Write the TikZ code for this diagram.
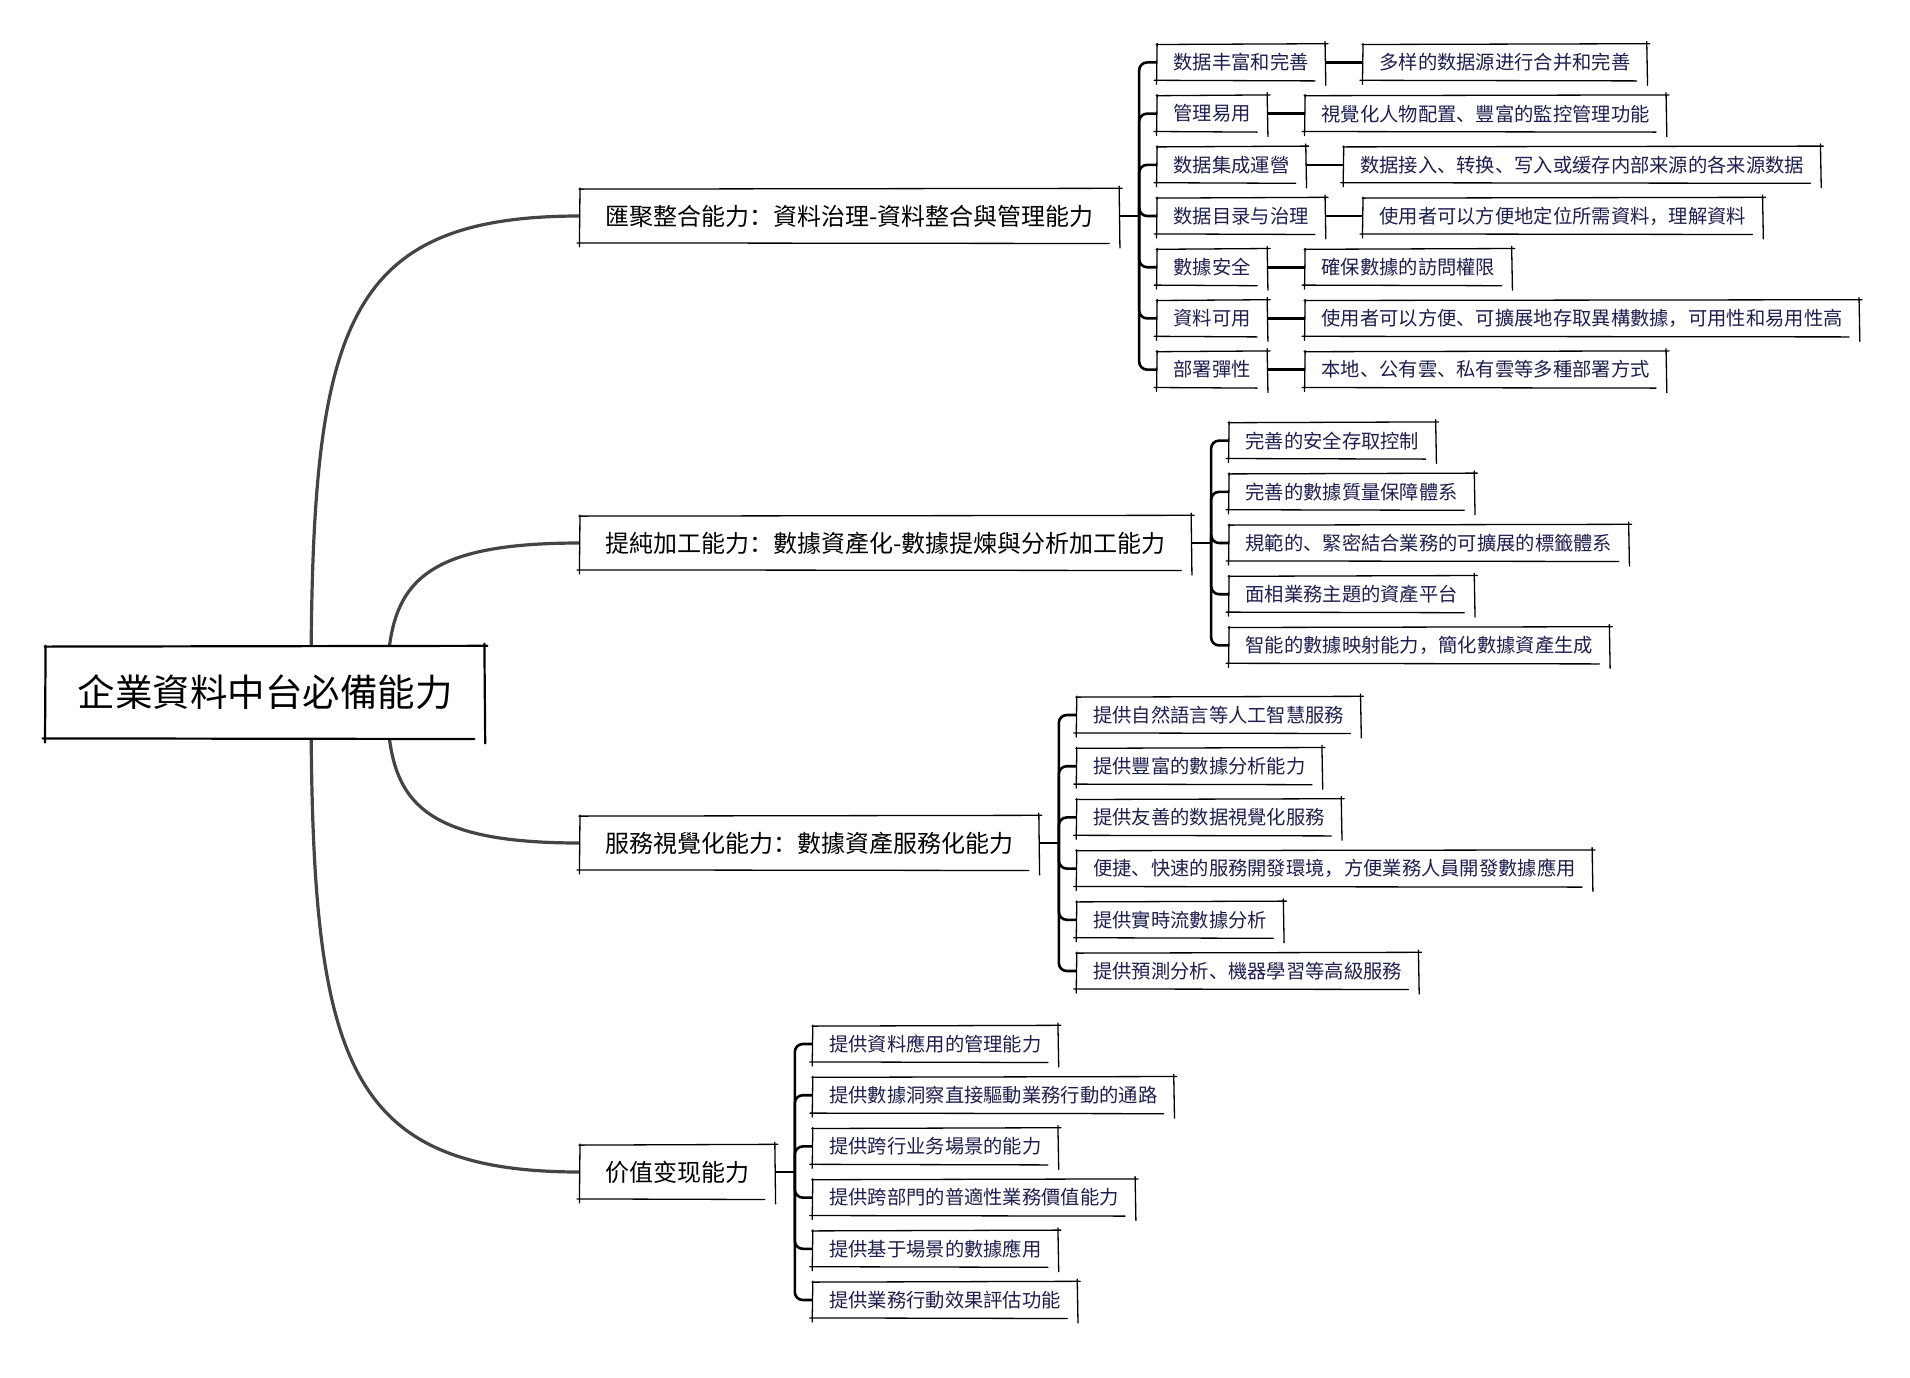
\documentclass[tikz,border=0pt]{standalone}
\usepackage{fontspec}
\setmainfont{Noto Sans CJK SC}
\usetikzlibrary{calc,positioning,backgrounds}
\definecolor{leaftext}{HTML}{1E1E50}
\definecolor{curvegray}{HTML}{444444}
\tikzset{
  skline/.style={draw=black, line width=0.65pt, line cap=round},
  rootline/.style={draw=black, line width=1.1pt, line cap=round},
  sketch/.style={append after command={\pgfextra{\let\sk\tikzlastnode}
    ([xshift=-0.5pt]\sk.north west) edge[#1] ([xshift=1.5pt,yshift=0.4pt]\sk.north east)
    ([yshift=0.5pt]\sk.north west) edge[#1] ([xshift=-0.3pt,yshift=-2pt]\sk.south west)
    ([xshift=-1.5pt]\sk.south west) edge[#1] ([xshift=-5pt,yshift=-0.3pt]\sk.south east)
    ([yshift=1.5pt]\sk.north east) edge[#1] ([xshift=0.4pt,yshift=-2.5pt]\sk.south east)
  }},
  sketch/.default=skline,
  rootbox/.style={sketch=rootline, fill=white, minimum width=219pt, minimum height=45.5pt,
    inner sep=0pt, font=\fontsize{18.75pt}{22pt}\selectfont},
  branch/.style={sketch, fill=white, anchor=west, minimum height=26.5pt, inner xsep=12.5pt,
    inner ysep=0pt, font=\fontsize{12pt}{14pt}\selectfont},
  leaf/.style={sketch, fill=white, anchor=west, minimum height=17.5pt, inner xsep=8pt,
    inner ysep=0pt, text=leaftext, font=\fontsize{9.65pt}{11pt}\selectfont},
  curve/.style={draw=curvegray, line width=1.6pt},
  conn/.style={draw=black, line width=1.3pt},
  spine/.style={conn, rounded corners=4pt},
}
\begin{document}
\begin{tikzpicture}[x=0.5pt,y=-0.5pt]
\useasboundingbox (0,0) rectangle (1910,1377);

% root and branches
\node[rootbox] (root) at (265,692.5) {企業資料中台必備能力};
\node[branch] (b1) at (580,216) {匯聚整合能力：資料治理-資料整合與管理能力};
\node[branch] (b2) at (580,543) {提純加工能力：數據資產化-數據提煉與分析加工能力};
\node[branch] (b3) at (580,843) {服務視覺化能力：數據資產服務化能力};
\node[branch] (b4) at (580,1172) {价值变现能力};

\coordinate (r1) at (311,692.5);
\coordinate (r2) at (387,692.5);
\begin{scope}[on background layer]
\fill[white] (0,0) rectangle (1910,1377);
\draw[curve] (r1) .. controls (311,330) and (340,216) .. (b1.west);
\draw[curve] (r2) .. controls (387,590) and (410,543) .. (b2.west);
\draw[curve] (r2) .. controls (387,795) and (410,843) .. (b3.west);
\draw[curve] (r1) .. controls (311,1055) and (340,1172) .. (b4.west);
\end{scope}

% branch 1 leaves
\node[leaf] (l11) at ($(b1.east)+(38,-153.6)$) {数据丰富和完善};
\node[leaf] (l12) at ($(b1.east)+(38,-102.4)$) {管理易用};
\node[leaf] (l13) at ($(b1.east)+(38,-51.2)$) {数据集成運營};
\node[leaf] (l14) at ($(b1.east)+(38,0)$) {数据目录与治理};
\node[leaf] (l15) at ($(b1.east)+(38,51.2)$) {數據安全};
\node[leaf] (l16) at ($(b1.east)+(38,102.4)$) {資料可用};
\node[leaf] (l17) at ($(b1.east)+(38,153.6)$) {部署彈性};
\node[leaf, right=19pt of l11] (m11) {多样的数据源进行合并和完善};
\node[leaf, right=19pt of l12] (m12) {視覺化人物配置、豐富的監控管理功能};
\node[leaf, right=19pt of l13] (m13) {数据接入、转换、写入或缓存内部来源的各来源数据};
\node[leaf, right=19pt of l14] (m14) {使用者可以方便地定位所需資料，理解資料};
\node[leaf, right=19pt of l15] (m15) {確保數據的訪問權限};
\node[leaf, right=19pt of l16] (m16) {使用者可以方便、可擴展地存取異構數據，可用性和易用性高};
\node[leaf, right=19pt of l17] (m17) {本地、公有雲、私有雲等多種部署方式};
\coordinate (s1) at ($(b1.east)+(20,0)$);
\draw[conn] (b1.east) -- (s1);
\foreach \n in {l11,l12,l13,l14,l15,l16,l17} \draw[spine] (s1) |- (\n.west);
\foreach \a/\b in {l11/m11,l12/m12,l13/m13,l14/m14,l15/m15,l16/m16,l17/m17}
  \draw[conn] (\a.east) -- (\b.west);

% branch 2 leaves
\node[leaf] (l21) at ($(b2.east)+(38,-102.4)$) {完善的安全存取控制};
\node[leaf] (l22) at ($(b2.east)+(38,-51.2)$) {完善的數據質量保障體系};
\node[leaf] (l23) at ($(b2.east)+(38,0)$) {規範的、緊密結合業務的可擴展的標籤體系};
\node[leaf] (l24) at ($(b2.east)+(38,51.2)$) {面相業務主題的資產平台};
\node[leaf] (l25) at ($(b2.east)+(38,102.4)$) {智能的數據映射能力，簡化數據資產生成};
\coordinate (s2) at ($(b2.east)+(20,0)$);
\draw[conn] (b2.east) -- (s2);
\foreach \n in {l21,l22,l23,l24,l25} \draw[spine] (s2) |- (\n.west);

% branch 3 leaves
\node[leaf] (l31) at ($(b3.east)+(38,-128)$) {提供自然語言等人工智慧服務};
\node[leaf] (l32) at ($(b3.east)+(38,-76.8)$) {提供豐富的數據分析能力};
\node[leaf] (l33) at ($(b3.east)+(38,-25.6)$) {提供友善的数据視覺化服務};
\node[leaf] (l34) at ($(b3.east)+(38,25.6)$) {便捷、快速的服務開發環境，方便業務人員開發數據應用};
\node[leaf] (l35) at ($(b3.east)+(38,76.8)$) {提供實時流數據分析};
\node[leaf] (l36) at ($(b3.east)+(38,128)$) {提供預測分析、機器學習等高級服務};
\coordinate (s3) at ($(b3.east)+(20,0)$);
\draw[conn] (b3.east) -- (s3);
\foreach \n in {l31,l32,l33,l34,l35,l36} \draw[spine] (s3) |- (\n.west);

% branch 4 leaves
\node[leaf] (l41) at ($(b4.east)+(38,-128)$) {提供資料應用的管理能力};
\node[leaf] (l42) at ($(b4.east)+(38,-76.8)$) {提供數據洞察直接驅動業務行動的通路};
\node[leaf] (l43) at ($(b4.east)+(38,-25.6)$) {提供跨行业务場景的能力};
\node[leaf] (l44) at ($(b4.east)+(38,25.6)$) {提供跨部門的普適性業務價值能力};
\node[leaf] (l45) at ($(b4.east)+(38,76.8)$) {提供基于場景的數據應用};
\node[leaf] (l46) at ($(b4.east)+(38,128)$) {提供業務行動效果評估功能};
\coordinate (s4) at ($(b4.east)+(20,0)$);
\draw[conn] (b4.east) -- (s4);
\foreach \n in {l41,l42,l43,l44,l45,l46} \draw[spine] (s4) |- (\n.west);
\end{tikzpicture}
\end{document}
